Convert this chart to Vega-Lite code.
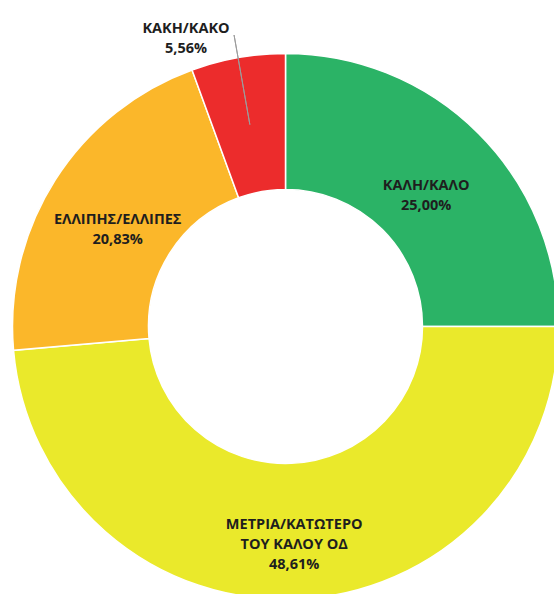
{
  "$schema": "https://vega.github.io/schema/vega-lite/v6.json",
  "width": 571,
  "height": 653,
  "autosize": "none",
  "padding": 0,
  "background": "white",
  "view": {"stroke": null},
  "data": {
    "values": [
      {"idx": 1, "category": "ΚΑΛΗ/ΚΑΛΟ", "value": 25.00, "label": "ΚΑΛΗ/ΚΑΛΟ\n25,00%"},
      {"idx": 2, "category": "ΜΕΤΡΙΑ/ΚΑΤΩΤΕΡΟ ΤΟΥ ΚΑΛΟΥ ΟΔ", "value": 48.61, "label": "ΜΕΤΡΙΑ/ΚΑΤΩΤΕΡΟ\nΤΟΥ ΚΑΛΟΥ ΟΔ\n48,61%"},
      {"idx": 3, "category": "ΕΛΛΙΠΗΣ/ΕΛΛΙΠΕΣ", "value": 20.83, "label": "ΕΛΛΙΠΗΣ/ΕΛΛΙΠΕΣ\n20,83%"},
      {"idx": 4, "category": "ΚΑΚΗ/ΚΑΚΟ", "value": 5.56, "label": "ΚΑΚΗ/ΚΑΚΟ\n5,56%"}
    ]
  },
  "layer": [
    {
      "mark": {"type": "arc", "innerRadius": 137, "outerRadius": 273, "stroke": "white", "strokeWidth": 1.5},
      "encoding": {
        "theta": {"field": "value", "type": "quantitative", "stack": true},
        "order": {"field": "idx", "type": "quantitative", "sort": "ascending"},
        "color": {
          "field": "category",
          "type": "nominal",
          "scale": {
            "domain": ["ΚΑΛΗ/ΚΑΛΟ", "ΜΕΤΡΙΑ/ΚΑΤΩΤΕΡΟ ΤΟΥ ΚΑΛΟΥ ΟΔ", "ΕΛΛΙΠΗΣ/ΕΛΛΙΠΕΣ", "ΚΑΚΗ/ΚΑΚΟ"],
            "range": ["#2BB366", "#EAE92B", "#FBB72A", "#EC2C2C"]
          },
          "legend": null
        }
      }
    },
    {
      "mark": {"type": "arc", "innerRadius": 205, "outerRadius": 296, "padAngle": 0.5, "filled": false, "color": "#9c9c9c", "strokeWidth": 1},
      "encoding": {
        "theta": {"field": "value", "type": "quantitative", "stack": true},
        "order": {"field": "idx", "type": "quantitative", "sort": "ascending"},
        "strokeOpacity": {"condition": {"test": "datum.idx == 4", "value": 1}, "value": 0}
      }
    },
    {
      "mark": {"type": "text", "radius": 199, "font": "Open Sans", "fontSize": 14.5, "fontWeight": "bold", "color": "#1e1e1e", "lineBreak": "\n", "lineHeight": 20, "align": "center", "baseline": "middle"},
      "encoding": {
        "theta": {"field": "value", "type": "quantitative", "stack": true},
        "order": {"field": "idx", "type": "quantitative", "sort": "ascending"},
        "text": {"condition": {"test": "datum.idx != 4", "field": "label"}, "value": ""}
      }
    },
    {
      "mark": {"type": "text", "radius": 302, "dx": -47, "font": "Open Sans", "fontSize": 14.5, "fontWeight": "bold", "color": "#1e1e1e", "lineBreak": "\n", "lineHeight": 20, "align": "center", "baseline": "middle"},
      "encoding": {
        "theta": {"field": "value", "type": "quantitative", "stack": true},
        "order": {"field": "idx", "type": "quantitative", "sort": "ascending"},
        "text": {"condition": {"test": "datum.idx == 4", "field": "label"}, "value": ""}
      }
    }
  ]
}
